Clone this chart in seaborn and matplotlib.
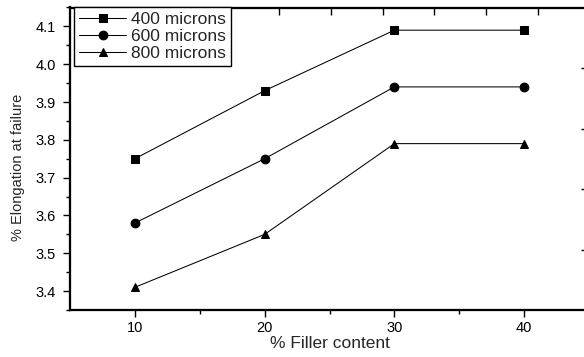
import matplotlib
matplotlib.use("Agg")
import matplotlib.pyplot as plt
import seaborn as sns
import pandas as pd

# ---- data ----
filler = [10, 20, 30, 40]
s400 = [3.75, 3.93, 4.09, 4.09]
s600 = [3.58, 3.75, 3.94, 3.94]
s800 = [3.41, 3.55, 3.79, 3.79]
series_names = ["400 microns", "600 microns", "800 microns"]
x_major = [10, 20, 30, 40]
x_minor = [15, 25, 35]
y_major = [3.4, 3.5, 3.6, 3.7, 3.8, 3.9, 4.0, 4.1]
y_minor = [3.35, 3.45, 3.55, 3.65, 3.75, 3.85, 3.95, 4.05, 4.15]
top_ticks = [9.09, 13.09, 17.09, 21.09, 25.09, 29.09, 33.09, 37.09, 41.09]
right_ticks = [3.51, 3.67, 3.83, 3.99]

df = pd.DataFrame({
    "filler": filler * 3,
    "elong": s400 + s600 + s800,
    "series": [series_names[0]] * 4 + [series_names[1]] * 4 + [series_names[2]] * 4,
})

sns.set_style("ticks")
plt.rcParams["font.family"] = ["Liberation Sans", "DejaVu Sans"]

fig = plt.figure(figsize=(5.84, 3.57), dpi=100)
ax = fig.add_axes([70 / 584, 47 / 357, 519 / 584, 302.5 / 357])

sns.lineplot(data=df, x="filler", y="elong", hue="series", style="series",
             markers=["s", "o", "^"], dashes=False,
             palette=["black", "black", "black"], linewidth=0.75,
             markersize=6.3, markeredgecolor="black", ax=ax, legend=True)

handles, labels = ax.get_legend_handles_labels()
if ax.get_legend() is not None:
    ax.get_legend().remove()

ax.set_xlim(5, 45)
ax.set_ylim(3.35, 4.15)
ax.set_xticks(x_major)
ax.set_xticks(x_minor, minor=True)
ax.set_yticks(y_major)
ax.set_yticklabels([f"{v:.1f}" for v in y_major])
ax.set_yticks(y_minor, minor=True)
ax.tick_params(axis="both", which="major", direction="out", length=5, width=1,
               labelsize=10.5, color="black", labelcolor="black")
ax.tick_params(axis="both", which="minor", direction="out", length=3, width=1,
               color="black")
ax.tick_params(axis="y", which="major", pad=5)
ax.tick_params(axis="x", which="major", pad=3)
for sp in ax.spines.values():
    sp.set_linewidth(1.5)
    sp.set_color("black")

ax.set_xlabel("% Filler content", fontsize=12.5, labelpad=1)
ax.set_ylabel("% Elongation at failure", fontsize=10.5)
ax.yaxis.set_label_coords(-0.087, 0.473)

axt = ax.twiny()
axt.set_xlim(5, 45)
axt.set_xticks(top_ticks)
axt.tick_params(axis="x", direction="in", length=5, width=1, labeltop=False,
                color="black")
axr = ax.twinx()
axr.set_ylim(3.35, 4.15)
axr.set_yticks(right_ticks)
axr.tick_params(axis="y", direction="in", length=6, width=1, labelright=False,
                color="black")
for a in (axt, axr):
    for sp in a.spines.values():
        sp.set_linewidth(1.5)
        sp.set_color("black")

leg = fig.legend(handles, labels, loc="upper left",
                 bbox_to_anchor=(74 / 584, 1 - 7 / 357),
                 bbox_transform=fig.transFigure, borderaxespad=0,
                 fontsize=12.5, frameon=True, fancybox=False, framealpha=1,
                 edgecolor="black", handlelength=2.7, handletextpad=0.3,
                 labelspacing=0.1, borderpad=0.3)
leg.get_frame().set_linewidth(1.0)

fig.savefig("out.png", dpi=100)
